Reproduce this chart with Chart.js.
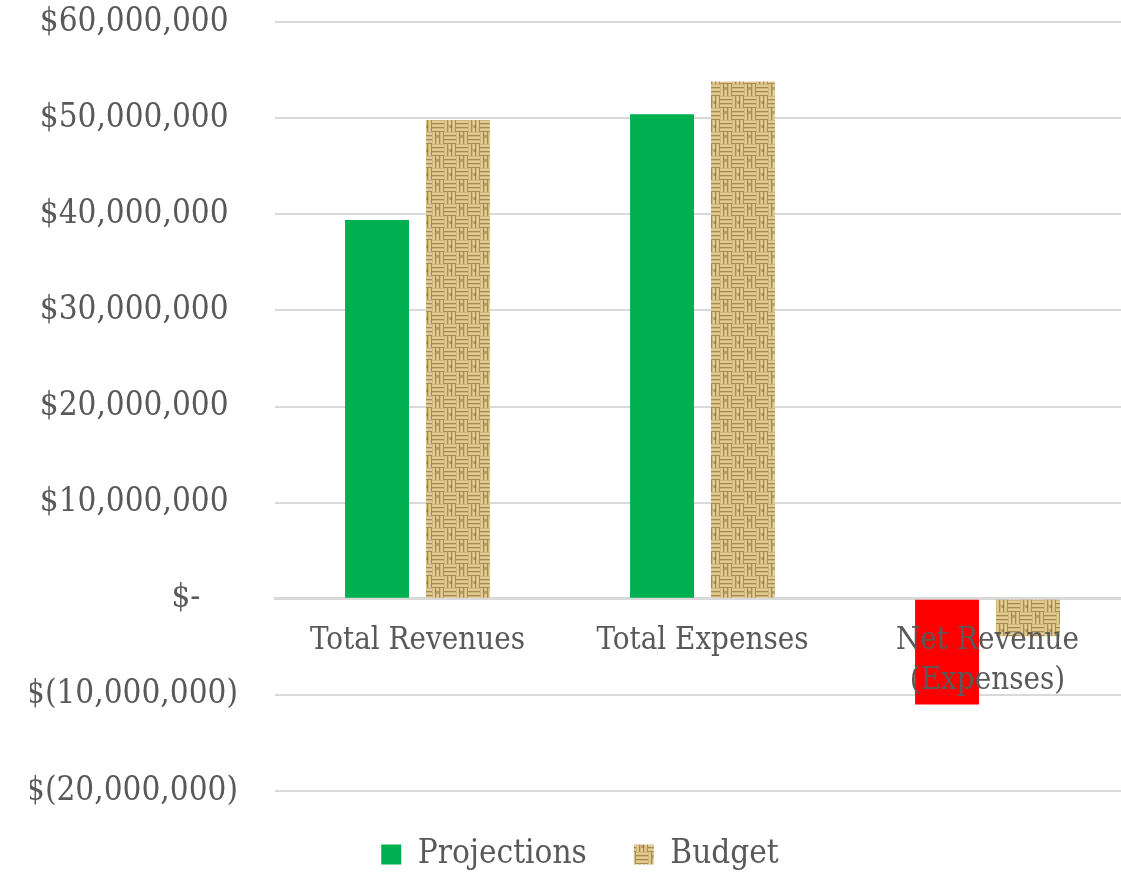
<!DOCTYPE html>
<html>
<head>
<meta charset="utf-8">
<script src="https://cdn.jsdelivr.net/npm/chart.js@4.4.1/dist/chart.umd.min.js"></script>
<style>
  html, body { margin: 0; padding: 0; background: #fff; overflow: hidden; }
  #wrap { width: 1130px; height: 875px; }
</style>
</head>
<body>
<div id="wrap"><canvas id="graphCanvas"></canvas></div>
<script>
var categories = ['Total Revenues', 'Total Expenses', ['Net Revenue', '(Expenses)']];
var projections = [39400000, 50400000, -11000000];
var budget = [49800000, 53800000, -3900000];
var projectionColors = ['#00b050', '#00b050', '#ff0000'];
var yMin = -20000000;
var yMax = 60000000;
var yStep = 10000000;

var FONT = "'DejaVu Serif Condensed', 'DejaVu Serif', serif";

// burlap-like basket weave used for the budget bars
function makeBurlap() {
    var c = document.createElement('canvas');
    c.width = 24; c.height = 24;
    var g = c.getContext('2d');
    g.fillStyle = '#c3a467';
    g.fillRect(0, 0, 24, 24);
    var shades = ['#cfb478', '#e3cf98', '#dcc68c', '#a98b55'];
    for (var i = 0; i < 2; i++) {
        for (var j = 0; j < 2; j++) {
            var x0 = i * 12, y0 = j * 12;
            var horiz = (i + j) % 2 === 0;
            for (var k = 0; k < 3; k++) {
                for (var s = 0; s < 4; s++) {
                    g.fillStyle = shades[s];
                    if (horiz) g.fillRect(x0, y0 + k * 4 + s, 12, 1);
                    else g.fillRect(x0 + k * 4 + s, y0, 1, 12);
                }
            }
        }
    }
    // a couple of darker knots
    g.fillStyle = 'rgba(120, 90, 40, 0.35)';
    g.fillRect(4, 15, 3, 3);
    g.fillRect(17, 5, 3, 3);
    return g.createPattern(c, 'repeat');
}

function money(v) {
    if (v === 0) return '$-    ';
    var s = Math.abs(v).toLocaleString('en-US');
    return v < 0 ? '$(' + s + ')' : '$' + s + ' ';
}

var chartdata = {
    labels: categories,
    datasets: [{
        label: 'Projections',
        backgroundColor: projectionColors,
        borderWidth: 0,
        data: projections
    }, {
        label: 'Budget',
        backgroundColor: makeBurlap(),
        borderWidth: 0,
        data: budget
    }]
};

new Chart(document.getElementById('graphCanvas'), {
    type: 'bar',
    data: chartdata,
    options: {
        responsive: true,
        maintainAspectRatio: false,
        animation: false,
        datasets: { bar: { categoryPercentage: 0.568, barPercentage: 0.79 } },
        layout: { padding: { top: 22, left: 30, right: 0, bottom: -6 } },
        plugins: {
            tooltip: { enabled: false },
            legend: {
                position: 'bottom',
                labels: {
                    color: '#595959',
                    font: { family: FONT, size: 33 },
                    boxWidth: 20,
                    boxHeight: 20,
                    padding: 47
                }
            }
        },
        scales: {
            x: {
                position: { y: 0 },
                grid: { display: false, drawTicks: false },
                border: { display: true, color: '#d9d9d9', width: 3 },
                ticks: {
                    z: 1,
                    color: '#595959',
                    font: { family: FONT, size: 31, lineHeight: 1.3 },
                    padding: 22,
                    maxRotation: 0,
                    autoSkip: false
                }
            },
            y: {
                min: yMin,
                max: yMax,
                afterFit: function (scale) { scale.width = 245; },
                grid: { color: '#d9d9d9', lineWidth: 2, drawTicks: true, tickLength: 37, tickColor: 'rgba(0,0,0,0)' },
                border: { display: false },
                ticks: {
                    stepSize: yStep,
                    color: '#595959',
                    font: { family: FONT, size: 33 },
                    padding: 0,
                    callback: function (v) { return money(v); }
                }
            }
        }
    }
});
</script>
</body>
</html>
